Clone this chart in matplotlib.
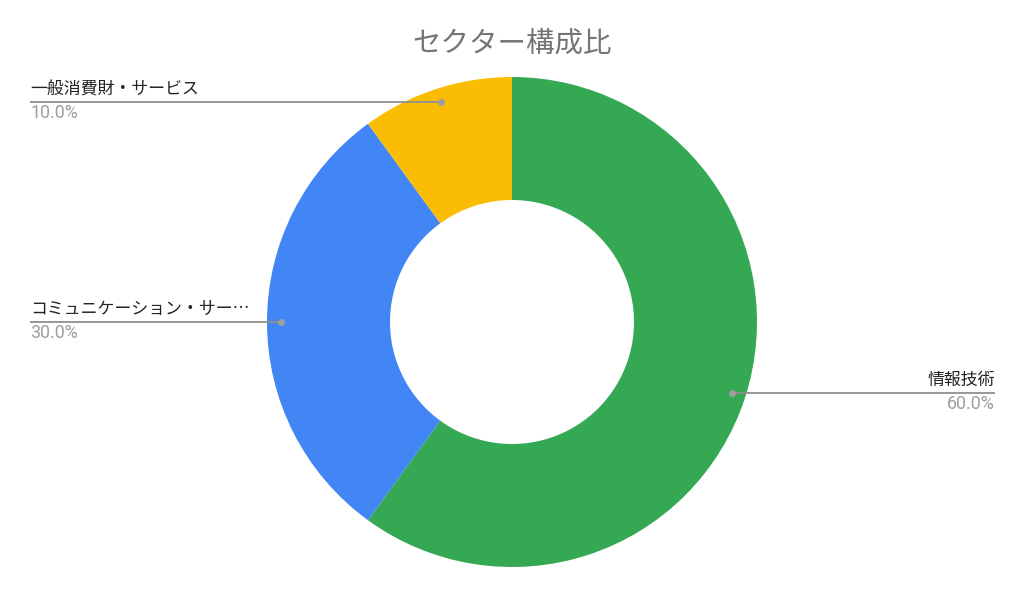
import numpy as np
import matplotlib
matplotlib.use('Agg')
import matplotlib.pyplot as plt

plt.rcParams['font.family'] = ['Noto Sans CJK JP', 'DejaVu Sans']

# data
sectors = ['情報技術', 'コミュニケーション・サー…', '一般消費財・サービス']
shares = [60.0, 30.0, 10.0]
colors = ['#34A853', '#4285F4', '#FBBC04']
title = 'セクター構成比'

W, H = 1024, 596
fig = plt.figure(figsize=(W / 100, H / 100), dpi=100)
ax = fig.add_axes([0, 0, 1, 1])
ax.set_aspect('equal')

cx, cy = 512, H - 322
R = 245
wedges, _ = ax.pie(shares, colors=colors, startangle=90, counterclock=False,
                   radius=R, center=(cx, cy), frame=True,
                   wedgeprops=dict(width=123, linewidth=0))
ax.set_xlim(0, W)
ax.set_ylim(0, H)
ax.axis('off')

ax.text(cx, H - 44, title, ha='center', va='center', fontsize=20.5, color='#757575')

r_dot = 231
for w, name, v in zip(wedges, sectors, shares):
    mid = np.deg2rad((w.theta1 + w.theta2) / 2)
    px = cx + r_dot * np.cos(mid)
    py = cy + r_dot * np.sin(mid)
    if px < cx:
        x_end, ha = 30, 'left'
    else:
        x_end, ha = 995, 'right'
    ax.plot([px, x_end], [py, py], color='#8f8f8f', lw=1.3, solid_capstyle='butt')
    ax.plot(px, py, 'o', ms=5, color='#9e9e9e', mec='none')
    ax.text(x_end, py + 4, name, ha=ha, va='bottom', fontsize=12.2, color='#222222')
    ax.text(x_end, py - 2, '%.1f%%' % v, ha=ha, va='top', fontsize=12.8,
            color='#9e9e9e', family=['Roboto', 'DejaVu Sans'])

fig.savefig('out.png', dpi=100, facecolor='white')
